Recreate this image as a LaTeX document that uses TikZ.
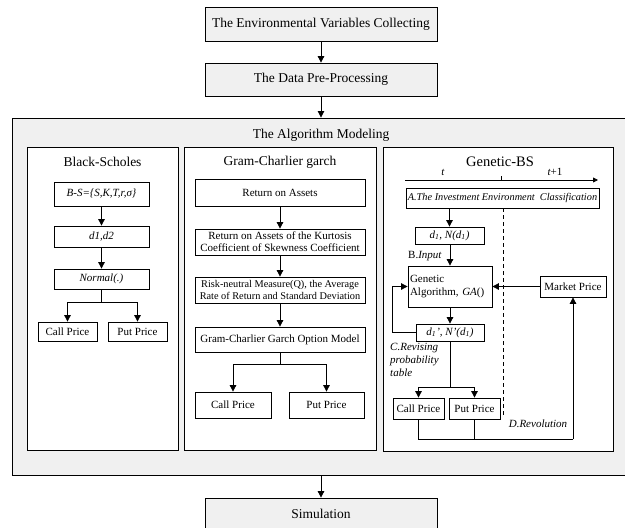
\documentclass[tikz,border=0pt]{standalone}
\usepackage{fontspec}
\setmainfont{Liberation Serif}
\usetikzlibrary{arrows.meta}
\definecolor{bggrey}{HTML}{F0F0F0}
\tikzset{
  box/.style={draw=black, line width=0.8pt, fill=white, inner sep=1pt, align=center, font=\fontsize{11}{12.5}\selectfont},
  greybox/.style={box, fill=bggrey, font=\fontsize{13.5}{15}\selectfont},
  panel/.style={draw=black, line width=0.8pt, fill=white, inner sep=0pt},
  title/.style={font=\fontsize{13.5}{15}\selectfont, inner sep=0pt},
  lbl/.style={font=\fontsize{11}{12.5}\selectfont\itshape, inner sep=0pt},
  arr/.style={-{Triangle[width=6.5pt,length=6.5pt]}, line width=0.8pt},
  ln/.style={line width=0.8pt},
}
\begin{document}
\begin{tikzpicture}[x=1pt,y=-1pt]
\useasboundingbox (0,0) rectangle (625,528);
% top chain
\node[greybox, minimum width=232, minimum height=34] (env) at (321,24) {The Environmental Variables Collecting};
\node[greybox, minimum width=232, minimum height=33] (pre) at (321,79.5) {The Data Pre-Processing};
\node[draw=black, line width=0.9pt, fill=bggrey, minimum width=620, minimum height=357, inner sep=0pt] (alg) at (322,296.5) {};
\node[greybox, minimum width=232, minimum height=32] (sim) at (321,514) {Simulation};
\draw[arr] (env.south) -- (pre.north);
\draw[arr] (pre.south) -- (pre.south |- alg.north);
\draw[arr] (sim.north |- alg.south) -- (sim.north);
\node[title] (algt) at (321,135) {The Algorithm Modeling};
% panels
\node[panel, minimum width=151, minimum height=303] (pbs) at (102.5,298.5) {};
\node[panel, minimum width=192, minimum height=303] (pgc) at (280,298.5) {};
\node[panel, minimum width=230, minimum height=304] (pga) at (498,299) {};
\node[title] (tbs) at (102.5,162) {Black-Scholes};
\node[title] (tgc) at (280,162) {Gram-Charlier garch};
\node[title, font=\fontsize{14.5}{16}\selectfont] (tga) at (500,162) {Genetic-BS};
% Black-Scholes
\node[box, minimum width=95, minimum height=24, font=\fontsize{11}{12.5}\selectfont\itshape] (bs1) at (101.5,194) {B-S=\{S,K,T,r,σ\}};
\node[box, minimum width=95, minimum height=21, font=\fontsize{11}{12.5}\selectfont\itshape] (bs2) at (101.5,236.5) {d1,d2};
\node[box, minimum width=95, minimum height=20, font=\fontsize{11}{12.5}\selectfont\itshape] (bs3) at (101.5,279) {Normal(.)};
\node[box, minimum width=59, minimum height=19] (bscall) at (67.5,331.5) {Call Price};
\node[box, minimum width=59, minimum height=19] (bsput) at (137.5,331.5) {Put Price};
\draw[arr] (bs1) -- (bs2);
\draw[arr] (bs2) -- (bs3);
\coordinate (bsj) at (101.5,302);
\draw[ln] (bs3.south) -- (bsj);
\draw[arr] (bsj) -| (bscall.north);
\draw[arr] (bsj) -| (bsput.north);
% Gram-Charlier
\node[box, minimum width=170, minimum height=27] (g1) at (280,192.5) {Return on Assets};
\node[box, minimum width=170, minimum height=26, font=\fontsize{11}{12}\selectfont] (g2) at (280,242) {Return on Assets of the Kurtosis\\Coefficient of Skewness Coefficient};
\node[box, minimum width=170, minimum height=26, font=\fontsize{10.3}{12}\selectfont] (g3) at (280,290) {Risk-neutral Measure(Q), the Average\\Rate of Return and Standard Deviation};
\node[box, minimum width=170, minimum height=25] (g4) at (280,339.5) {Gram-Charlier Garch Option Model};
\node[box, minimum width=76, minimum height=26] (gcall) at (233,405) {Call Price};
\node[box, minimum width=75, minimum height=26] (gput) at (326.5,405) {Put Price};
\draw[arr] (g1) -- (g2);
\draw[arr] (g2) -- (g3);
\draw[arr] (g3) -- (g4);
\coordinate (gj) at (280,364);
\draw[ln] (g4.south) -- (gj);
\draw[arr] (gj) -| (gcall.north);
\draw[arr] (gj) -| (gput.north);
% Genetic-BS
\coordinate (tl0) at (405,180);
\coordinate (tl1) at (598,180);
\coordinate (tick0) at (501,180);
\coordinate (tick1) at (501,176);
\draw[-{Triangle[width=5pt,length=5pt]}, line width=0.8pt] (tl0) -- (tl1);
\draw[ln] (tick0) -- (tick1);
\node[lbl] (tt) at (443,172) {t};
\node[lbl] (tt1) at (555,172) {t\upshape+1};
\node[box, minimum width=193, minimum height=20, font=\fontsize{10.3}{12}\selectfont\itshape] (ga) at (502.5,198) {A.The Investment Environment\ \ Classification};
\coordinate (ds0) at (503,208);
\coordinate (ds1) at (503,415);
\draw[ln, dash pattern=on 4pt off 3pt] (ds0) -- (ds1);
\node[box, minimum width=69, minimum height=17, font=\fontsize{11}{12.5}\selectfont\itshape] (gd) at (449.5,235.5) {d\textsubscript{1}, N(d\textsubscript{1})};
\node[box, minimum width=84, minimum height=41, align=left, text width=80] (gga) at (450,286.5) {Genetic\\Algorithm, \textit{GA}()};
\node[box, minimum width=66, minimum height=21] (gmp) at (573,286.5) {Market Price};
\node[box, minimum width=68, minimum height=17, font=\fontsize{11}{12.5}\selectfont\itshape] (gdp) at (450,332.5) {d\textsubscript{1}', N'(d\textsubscript{1})};
\node[font=\fontsize{11}{12.5}\selectfont, inner sep=0pt] (binput) at (425,256) {B.\textit{Input}};
\node[lbl, anchor=north west, align=left, font=\fontsize{11}{13}\selectfont\itshape] (crev) at (390,343) {C.Revising\\probability\\table};
\node[box, minimum width=51, minimum height=21] (gcall2) at (418.5,408.5) {Call Price};
\node[box, minimum width=51, minimum height=21] (gput2) at (474.5,408.5) {Put Price};
\node[lbl] (drev) at (538,424) {D.Revolution};
\draw[arr] (ga.south -| gd.north) -- (gd.north);
\draw[arr] (gd.south -| gga.north) -- (gga.north);
\draw[arr] (gmp.west) -- (gga.east |- gmp.west);
\draw[arr] (gga.south) -- (gdp.north);
\coordinate (fb1) at (392,332.5);
\coordinate (fb2) at (392,286.5);
\draw[arr] (gdp.west) -- (fb1) -- (fb2) -- (gga.west);
\coordinate (gj2) at (450,387);
\draw[ln] (gdp.south) -- (gj2);
\draw[arr] (gj2) -| (gcall2.north);
\draw[arr] (gj2) -| (gput2.north);
\coordinate (bot1) at (418.5,439);
\coordinate (bot2) at (573,439);
\draw[ln] (gcall2.south) -- (bot1) -- (bot2);
\draw[ln] (gput2.south) -- (gput2.south |- bot1);
\draw[arr] (bot2) -- (gmp.south);
\end{tikzpicture}
\end{document}
